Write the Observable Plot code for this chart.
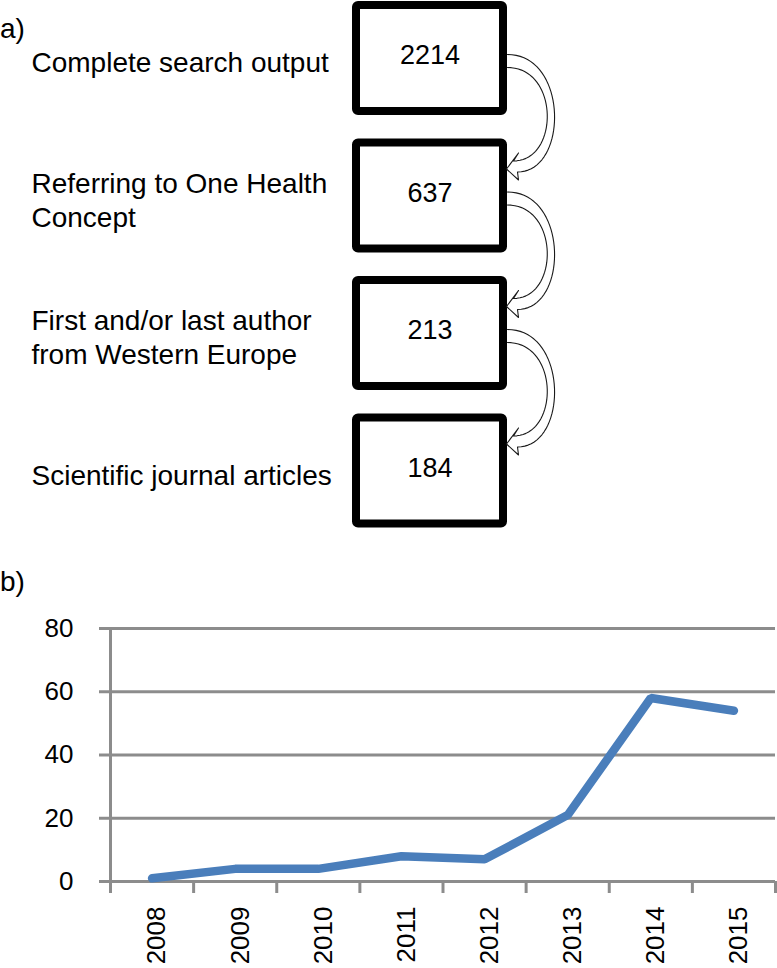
<!DOCTYPE html>
<html><head><meta charset="utf-8">
<script src="https://cdn.jsdelivr.net/npm/d3@7"></script>
<script src="https://cdn.jsdelivr.net/npm/@observablehq/plot@0.6"></script>
<style>
body{margin:0;background:#fff;}
#wrap{position:relative;width:777px;height:968px;overflow:hidden;font-family:"Liberation Sans",Arial,sans-serif;background:#fff;}
.tag{position:absolute;left:0;font-size:28px;line-height:1;color:#000;}
#a{position:absolute;left:0;top:0}
#b{position:absolute;left:0;top:600px}
</style></head><body>
<div id="wrap">
  <div id="a"></div><div id="b"></div>
  <div class="tag" style="top:15px">a)</div>
  <div class="tag" style="top:568px">b)</div>
</div>
<script>
// ---- data ----
const stepLabels = ["Complete search output", "Referring to One Health\nConcept", "First and/or last author\nfrom Western Europe", "Scientific journal articles"];
const stepCounts = [2214, 637, 213, 184];
const years = [2008, 2009, 2010, 2011, 2012, 2013, 2014, 2015];
const articles = [1, 4, 4, 8, 7, 21, 58, 54];
const yTicks = [0, 20, 40, 60, 80];

const FONT = '"Liberation Sans", Arial, sans-serif';

// ---- panel a: flow chart ----
const steps = stepLabels.map((label, i) => ({i, label, count: stepCounts[i]}));
const rowStep = 137.5;            // px between stage centres (layout)
const u = px => px / rowStep;     // px -> stage units

function bez(p0, p1, p2, p3, n) {
  const out = [];
  for (let k = 0; k <= n; k++) {
    const t = k / n, m = 1 - t;
    out.push([
      m*m*m*p0[0] + 3*m*m*t*p1[0] + 3*m*t*t*p2[0] + t*t*t*p3[0],
      m*m*m*p0[1] + 3*m*m*t*p1[1] + 3*m*t*t*p2[1] + t*t*t*p3[1]
    ]);
  }
  return out;
}
const arrowPts = [];
for (let i = 0; i < steps.length - 1; i++) {
  const outer = bez([507, -4], [568, -4], [568, 113.5], [517, 113.5], 40);
  const inner = bez([507, 9], [559, 9], [559, 102.5], [513, 102.5], 40);
  const head = [[518, 121.5], [506, 110.5], [518, 94.5]];
  const pts = outer.concat(head, inner.reverse());
  pts.forEach(([x, dy]) => arrowPts.push({arrow: i, x, y: i + u(dy)}));
}

const plotA = Plot.plot({
  width: 777, height: 545,
  margin: 0,
  x: {domain: [0, 777], range: [0, 777], axis: null},
  y: {domain: [0, 3], range: [58, 470.5], axis: null},
  style: {fontFamily: FONT, background: "#fff", color: "#000"},
  marks: [
    Plot.rect(steps, {x1: 356, x2: 503, y1: d => d.i - u(53), y2: d => d.i + u(53),
      fill: "none", stroke: "#000", strokeWidth: 8, rx: 2}),
    Plot.text(steps, {x: 429.5, y: d => d.i - u(3), text: d => String(d.count),
      fontSize: 27, textAnchor: "middle", fill: "#000"}),
    Plot.text(steps, {x: 31, y: d => d.i + u(3), text: "label",
      fontSize: 28, textAnchor: "start", lineAnchor: "middle", lineHeight: 1.2, fill: "#000"}),
    Plot.line(arrowPts, {x: "x", y: "y", z: "arrow", stroke: "#1a1a1a", strokeWidth: 1.1, fill: "none"})
  ]
});
document.getElementById("a").appendChild(plotA);

// ---- panel b: line chart ----
const series = years.map((year, k) => ({year, n: articles[k]}));
const edges = years.map(y => y - 0.5).concat([years[years.length - 1] + 0.5]);
const GRID = "#8c8c8c";

const plotB = Plot.plot({
  width: 777, height: 368,
  marginLeft: 110, marginRight: 2, marginTop: 28, marginBottom: 87,
  x: {domain: [edges[0], edges[edges.length - 1]]},
  y: {domain: [0, 80]},
  style: {fontFamily: FONT, background: "#fff", color: "#000", overflow: "visible"},
  marks: [
    Plot.ruleY(yTicks, {stroke: GRID, strokeWidth: 3}),
    Plot.ruleX([edges[0]], {y1: 0, y2: 80, stroke: GRID, strokeWidth: 3}),
    Plot.axisY(yTicks, {tickSize: 11, tickPadding: 26, stroke: GRID, strokeWidth: 3,
      fontSize: 26, fill: "#000", label: null, tickFormat: d => String(d)}),
    Plot.axisX(edges, {tickSize: 12, tickFormat: () => "", stroke: GRID, strokeWidth: 3, label: null}),
    Plot.axisX(years, {tickSize: 0, tickRotate: -90, tickPadding: 25, dx: 5, tickFormat: d => String(d),
      fontSize: 26, fill: "#000", label: null}),
    Plot.line(series, {x: "year", y: "n", stroke: "#4a7ebb", strokeWidth: 8.5,
      strokeLinecap: "round", strokeLinejoin: "miter"})
  ]
});
document.getElementById("b").appendChild(plotB);
</script>
</body></html>
